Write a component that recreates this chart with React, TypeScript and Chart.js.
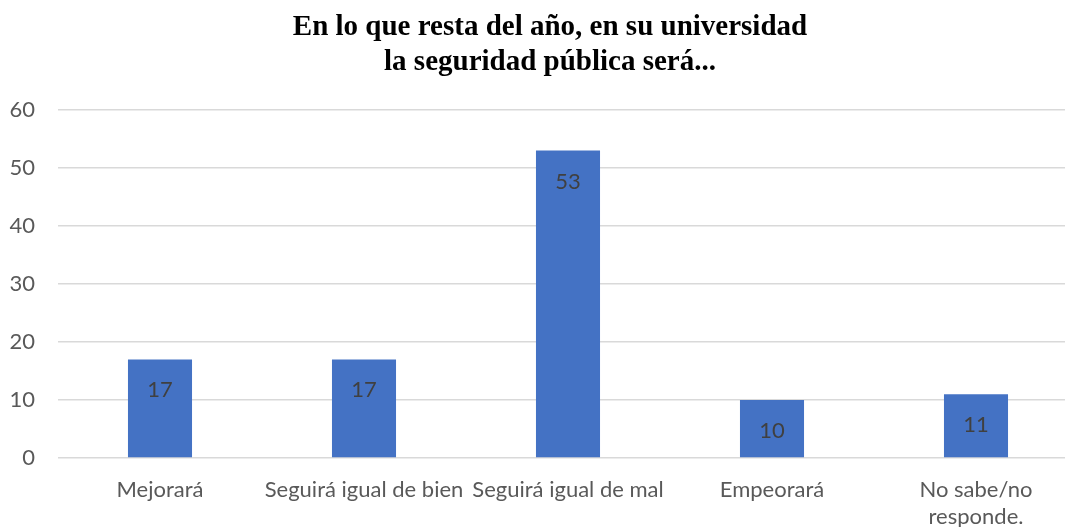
import React, { useEffect, useRef } from "react";
import { Chart, registerables } from "chart.js";

Chart.register(...registerables);

const titleLines = ["En lo que resta del año, en su universidad", "la seguridad pública será..."];
const categories: (string | string[])[] = [
  "Mejorará",
  "Seguirá igual de bien",
  "Seguirá igual de mal",
  "Empeorará",
  ["No sabe/no", "responde."],
];
const values = [17, 17, 53, 10, 11];
const yTicks = [0, 10, 20, 30, 40, 50, 60];

const CANVAS_W = 1090;
const CANVAS_H = 527;

const overlayPlugin = {
  id: "overlay",
  afterDatasetsDraw(chart: any) {
    const ctx = chart.ctx;
    const meta = chart.getDatasetMeta(0);
    ctx.save();
    ctx.fillStyle = "#404040";
    ctx.font = "22px Lato";
    ctx.textAlign = "center";
    ctx.textBaseline = "middle";
    meta.data.forEach((bar: any, i: number) => {
      ctx.fillText(String(values[i]), bar.x, bar.y + 31);
    });
    ctx.restore();
  },
  afterDraw(chart: any) {
    const ctx = chart.ctx;
    ctx.save();
    ctx.fillStyle = "#000000";
    ctx.font = "bold 29px 'Liberation Serif'";
    ctx.textAlign = "center";
    ctx.textBaseline = "middle";
    ctx.fillText(titleLines[0], 550, 28);
    ctx.fillText(titleLines[1], 550, 63);
    ctx.restore();
  },
};

export default function App() {
  const ref = useRef<HTMLCanvasElement>(null);
  useEffect(() => {
    if (!ref.current) return;
    const chart = new Chart(ref.current, {
      type: "bar",
      data: {
        labels: categories,
        datasets: [
          {
            data: values,
            backgroundColor: "#4472C4",
            borderWidth: 0,
            barPercentage: 0.628,
            categoryPercentage: 0.5,
          },
        ],
      },
      options: {
        animation: false,
        responsive: false,
        maintainAspectRatio: false,
        layout: { padding: { top: 110, right: 12, left: 0, bottom: 0 } },
        plugins: {
          legend: { display: false },
          title: { display: false },
          tooltip: { enabled: false },
        },
        scales: {
          x: {
            grid: { display: false, drawTicks: false },
            border: { display: false },
            ticks: {
              color: "#595959",
              font: { family: "Lato", size: 22, lineHeight: "27px" },
              padding: 18,
              maxRotation: 0,
              autoSkip: false,
            },
            afterFit(scale: any) {
              scale.height = CANVAS_H - 458;
            },
          },
          y: {
            min: 0,
            max: 60,
            afterBuildTicks(scale: any) {
              scale.ticks = yTicks.map((v) => ({ value: v }));
            },
            grid: { color: "#d9d9d9", lineWidth: 1.5, drawTicks: false },
            border: { display: false },
            ticks: {
              color: "#595959",
              font: { family: "Lato", size: 22 },
              padding: 23,
            },
            afterFit(scale: any) {
              scale.width = 58;
            },
          },
        },
      },
      plugins: [overlayPlugin],
    });
    return () => chart.destroy();
  }, []);
  return (
    <div
      style={{
        position: "fixed",
        left: 0,
        top: 0,
        width: 1065,
        height: 527,
        overflow: "hidden",
        background: "#fff",
      }}
    >
      <canvas ref={ref} width={CANVAS_W} height={CANVAS_H} style={{ width: CANVAS_W, height: CANVAS_H, display: "block" }} />
    </div>
  );
}
